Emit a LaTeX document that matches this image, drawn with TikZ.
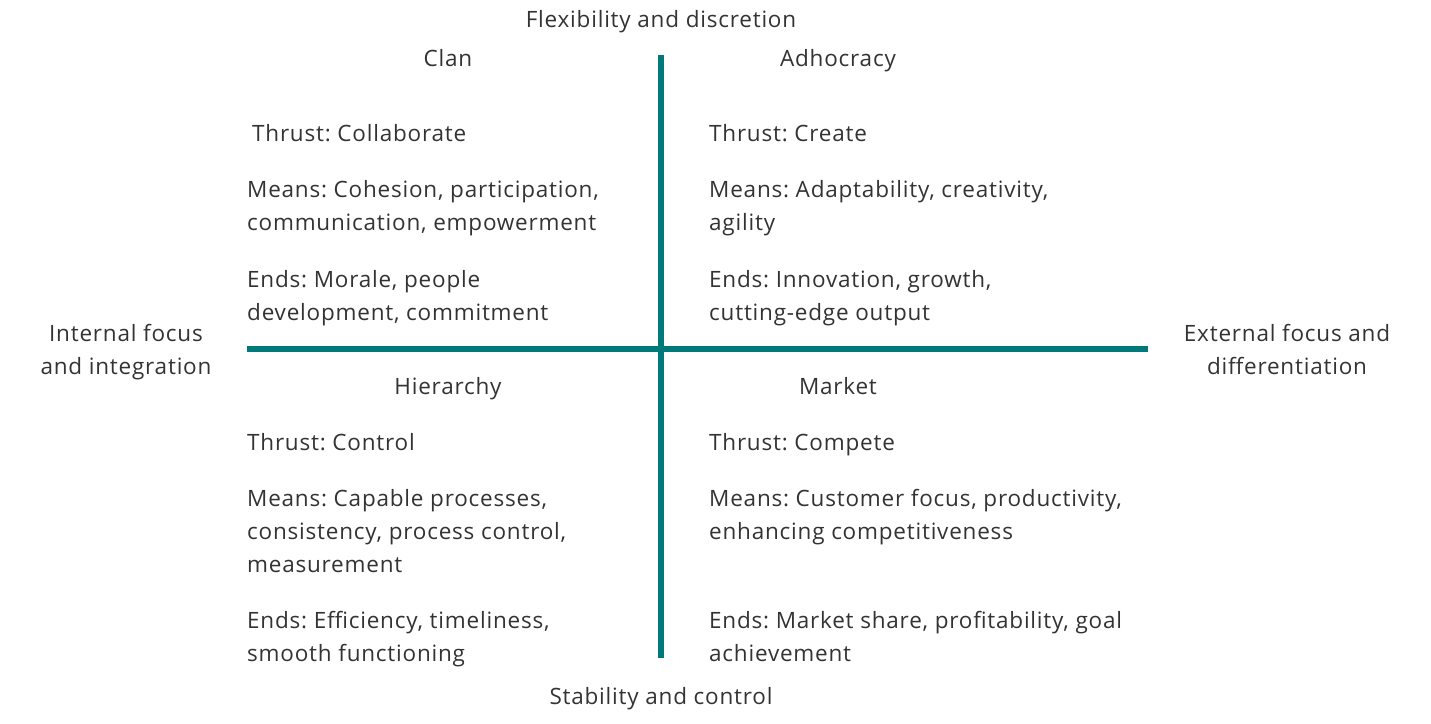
\documentclass[tikz,border=0pt]{standalone}
\usepackage{fontspec}
\setmainfont[LetterSpace=3.5]{Open Sans}
\frenchspacing
\definecolor{teal1}{HTML}{00797A}
\definecolor{txt}{HTML}{333333}
\begin{document}
\begin{tikzpicture}[x=1pt,y=-1pt,
  every node/.style={inner sep=0pt,text=txt,font=\fontsize{22.5}{33}\selectfont},
  ln/.style={anchor=base west},
  ctr/.style={anchor=base},
  axis/.style={draw=teal1,line width=6pt}]
\useasboundingbox (0,0) rectangle (1431,723);
\coordinate (l) at (247,349); \coordinate (r) at (1148,349);
\coordinate (t) at (661,55); \coordinate (b) at (661,658);
\draw[axis] (l) -- (r);
\draw[axis] (t) -- (b);
\node[ctr] (top) at (661,27) {Flexibility and discretion};
\node[ctr] (bot) at (661,704) {Stability and control};
\node[ctr] (l1) at (126,341) {Internal focus};
\node[ctr] (l2) at (126,374) {and integration};
\node[ctr] (r1) at (1287,341) {External focus and};
\node[ctr] (r2) at (1287,374) {differentiation};
\node[ctr] (clan) at (448,66) {Clan};
\node[ctr] (adh) at (838,66) {Adhocracy};
\node[ctr] (hie) at (448,394) {Hierarchy};
\node[ctr] (mkt) at (838,394) {Market};
% Clan
\node[ln] (c1) at (252,141) {Thrust: Collaborate};
\node[ln] (c2) at (247,197) {Means: Cohesion, participation,};
\node[ln] (c3) at (247,230) {communication, empowerment};
\node[ln] (c4) at (247,287) {Ends: Morale, people};
\node[ln] (c5) at (247,320) {development, commitment};
% Adhocracy
\node[ln] (a1) at (709,141) {Thrust: Create};
\node[ln] (a2) at (709,197) {Means: Adaptability, creativity,};
\node[ln] (a3) at (709,230) {agility};
\node[ln] (a4) at (709,287) {Ends: Innovation, growth,};
\node[ln] (a5) at (709,320) {cutting-edge output};
% Hierarchy
\node[ln] (h1) at (247,450) {Thrust: Control};
\node[ln] (h2) at (247,506) {Means: Capable processes,};
\node[ln] (h3) at (247,539) {consistency, process control,};
\node[ln] (h4) at (247,572) {measurement};
\node[ln] (h5) at (247,628) {Ends: Efficiency, timeliness,};
\node[ln] (h6) at (247,661) {smooth functioning};
% Market
\node[ln] (m1) at (709,450) {Thrust: Compete};
\node[ln] (m2) at (709,506) {Means: Customer focus, productivity,};
\node[ln] (m3) at (709,539) {enhancing competitiveness};
\node[ln] (m4) at (709,628) {Ends: Market share, profitability, goal};
\node[ln] (m5) at (709,661) {achievement};
\end{tikzpicture}
\end{document}
